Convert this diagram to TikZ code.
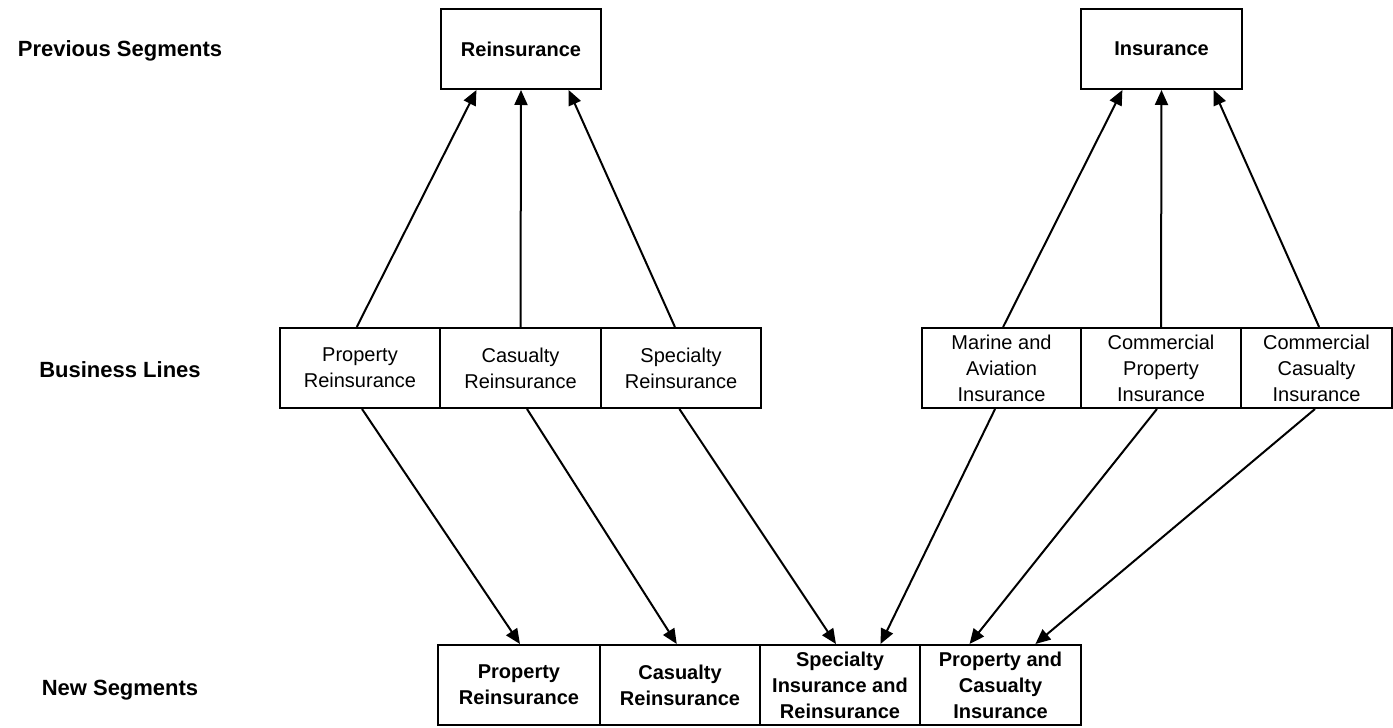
\documentclass[tikz,border=0pt]{standalone}
\usepackage{fontspec}
\setmainfont{Liberation Sans}
\usetikzlibrary{arrows.meta,calc}
\begin{document}
\begin{tikzpicture}[x=0.5pt,y=-0.5pt,
  box/.style={draw,line width=1pt,minimum width=80pt,minimum height=40pt,inner sep=0pt,align=center,font=\fontsize{10}{13}\selectfont},
  bbox/.style={box,font=\fontsize{10}{13}\selectfont\bfseries},
  lbl/.style={anchor=center,font=\fontsize{11}{13}\selectfont\bfseries,inner sep=0pt},
  arr/.style={line width=1pt,-{Triangle[length=7.5pt,width=6.5pt]}}]
\useasboundingbox (0,0) rectangle (1393,728);
% labels
\node[lbl] (l1) at (120,51) {Previous Segments};
\node[lbl] (l2) at (120,370) {Business Lines};
\node[lbl] (l3) at (120,690) {New Segments};
% previous segments
\node[bbox] (reins) at (521,49) {Reinsurance};
\node[bbox,minimum width=80.5pt] (ins) at (1161.5,49) {Insurance};
% business lines
\node[box] (pr) at (360,368) {Property\\Reinsurance};
\node[box,minimum width=80.5pt] (cr) at (520.5,368) {Casualty\\Reinsurance};
\node[box] (sr) at (681,368) {Specialty\\Reinsurance};
\node[box,minimum width=79.5pt] (ma) at (1001.5,368) {Marine and\\Aviation\\Insurance};
\node[box] (cp) at (1161,368) {Commercial\\Property\\Insurance};
\node[box,minimum width=75.5pt] (cc) at (1316.5,368) {Commercial\\Casualty\\Insurance};
% new segments
\node[bbox,minimum width=81pt] (np) at (519,685) {Property\\Reinsurance};
\node[bbox] (nc) at (680,685) {Casualty\\Reinsurance};
\node[bbox] (ns) at (840,685) {Specialty\\Insurance and\\Reinsurance};
\node[bbox,minimum width=80.5pt] (npc) at (1000.5,685) {Property and\\Casualty\\Insurance};
% up arrows
\draw[arr] ($(pr.north west)!0.48!(pr.north east)$) -- ($(reins.south west)!0.225!(reins.south east)$);
\draw[arr] (cr.north) -- (reins.south);
\draw[arr] ($(sr.north west)!0.4625!(sr.north east)$) -- ($(reins.south west)!0.794!(reins.south east)$);
\draw[arr] ($(ma.north west)!0.51!(ma.north east)$) -- ($(ins.south west)!0.26!(ins.south east)$);
\draw[arr] (cp.north) -- (ins.south);
\draw[arr] ($(cc.north west)!0.517!(cc.north east)$) -- ($(ins.south west)!0.82!(ins.south east)$);
% down arrows
\draw[arr] ($(pr.south west)!0.5125!(pr.south east)$) -- ($(np.north west)!0.506!(np.north east)$);
\draw[arr] ($(cr.south west)!0.54!(cr.south east)$) -- ($(nc.north west)!0.48!(nc.north east)$);
\draw[arr] ($(sr.south west)!0.49!(sr.south east)$) -- ($(ns.north west)!0.475!(ns.north east)$);
\draw[arr] ($(ma.south west)!0.46!(ma.south east)$) -- ($(ns.north west)!0.75!(ns.north east)$);
\draw[arr] ($(cp.south west)!0.475!(cp.south east)$) -- ($(npc.north west)!0.31!(npc.north east)$);
\draw[arr] ($(cc.south west)!0.49!(cc.south east)$) -- ($(npc.north west)!0.714!(npc.north east)$);
\end{tikzpicture}
\end{document}
